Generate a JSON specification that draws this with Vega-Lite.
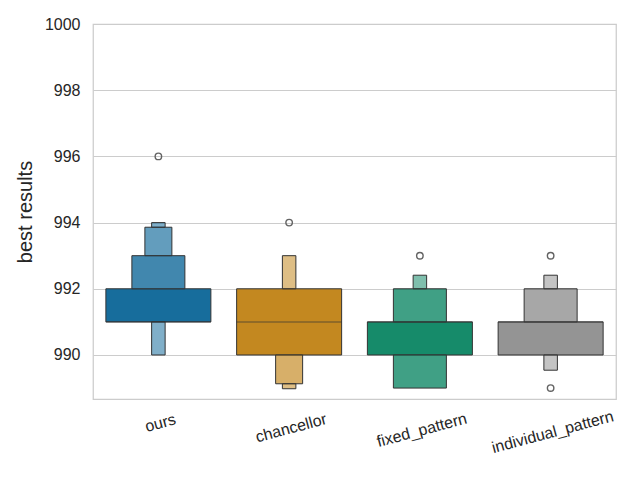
{
  "$schema": "https://vega.github.io/schema/vega-lite/v6.json",
  "width": 523,
  "height": 375,
  "autosize": {"type": "none"},
  "padding": {"left": 93, "top": 24, "right": 24, "bottom": 81},
  "background": "white",
  "config": {
    "view": {"stroke": "#cccccc", "strokeWidth": 1.25},
    "font": "Liberation Sans"
  },
  "datasets": {
    "boxes": [
      {"method": "ours", "level": 1, "lo": 991, "hi": 992},
      {"method": "ours", "level": 2, "lo": 992, "hi": 993},
      {"method": "ours", "level": 3, "lo": 993, "hi": 993.86},
      {"method": "ours", "level": 4, "lo": 993.86, "hi": 994},
      {"method": "ours", "level": 4, "lo": 990, "hi": 991},
      {"method": "chancellor", "level": 1, "lo": 990, "hi": 992},
      {"method": "chancellor", "level": 3, "lo": 989.13, "hi": 990},
      {"method": "chancellor", "level": 4, "lo": 988.98, "hi": 989.13},
      {"method": "chancellor", "level": 4, "lo": 992, "hi": 993},
      {"method": "fixed_pattern", "level": 1, "lo": 990, "hi": 991},
      {"method": "fixed_pattern", "level": 2, "lo": 991, "hi": 992},
      {"method": "fixed_pattern", "level": 2, "lo": 989, "hi": 990},
      {"method": "fixed_pattern", "level": 4, "lo": 992, "hi": 992.41},
      {"method": "individual_pattern", "level": 1, "lo": 990, "hi": 991},
      {"method": "individual_pattern", "level": 2, "lo": 991, "hi": 992},
      {"method": "individual_pattern", "level": 4, "lo": 992, "hi": 992.41},
      {"method": "individual_pattern", "level": 4, "lo": 989.54, "hi": 990}
    ],
    "medians": [
      {"method": "ours", "median": 991},
      {"method": "chancellor", "median": 991},
      {"method": "fixed_pattern", "median": 991},
      {"method": "individual_pattern", "median": 991}
    ],
    "outliers": [
      {"method": "ours", "value": 996},
      {"method": "chancellor", "value": 994},
      {"method": "fixed_pattern", "value": 993},
      {"method": "individual_pattern", "value": 993},
      {"method": "individual_pattern", "value": 989}
    ]
  },
  "encoding": {
    "x": {
      "field": "method",
      "type": "nominal",
      "sort": ["ours", "chancellor", "fixed_pattern", "individual_pattern"],
      "scale": {"domain": ["ours", "chancellor", "fixed_pattern", "individual_pattern"], "paddingInner": 0, "paddingOuter": 0},
      "axis": {
        "title": null,
        "labelAngle": -15,
        "labelAlign": "center",
        "labelBaseline": "top",
        "labelFontSize": 16,
        "labelColor": "#262626",
        "labelPadding": {
          "condition": [
            {"test": "datum.value === 'ours'", "value": 16},
            {"test": "datum.value === 'chancellor'", "value": 21},
            {"test": "datum.value === 'fixed_pattern'", "value": 23}
          ],
          "value": 25
        },
        "ticks": false,
        "domain": false,
        "grid": false
      }
    }
  },
  "layer": [
    {
      "data": {"name": "boxes"},
      "mark": {"type": "bar", "stroke": "#333333", "strokeWidth": 1},
      "encoding": {
        "y": {
          "field": "lo",
          "type": "quantitative",
          "title": "best results",
          "scale": {"domain": [988.67, 1000], "nice": false, "zero": false},
          "axis": {
            "values": [990, 992, 994, 996, 998, 1000],
            "format": "d",
            "grid": true,
            "gridColor": "#cccccc",
            "gridWidth": 1,
            "domain": false,
            "ticks": false,
            "labelFontSize": 16,
            "labelColor": "#262626",
            "labelPadding": 13,
            "titleFontSize": 20,
            "titleFontWeight": "normal",
            "titleColor": "#262626",
            "titlePadding": 9
          }
        },
        "y2": {"field": "hi"},
        "size": {
          "field": "level",
          "type": "ordinal",
          "scale": {"type": "ordinal", "domain": [1, 2, 3, 4], "range": [105, 53, 27, 13.5]},
          "legend": null
        },
        "color": {
          "field": "method",
          "type": "nominal",
          "scale": {
            "domain": ["ours", "chancellor", "fixed_pattern", "individual_pattern"],
            "range": ["#176d9c", "#c38820", "#168b6a", "#949494"]
          },
          "legend": null
        },
        "fillOpacity": {
          "field": "level",
          "type": "ordinal",
          "scale": {"type": "ordinal", "domain": [1, 2, 3, 4], "range": [1, 0.82, 0.67, 0.55]},
          "legend": null
        }
      }
    },
    {
      "data": {"name": "medians"},
      "mark": {"type": "tick", "color": "#333333", "thickness": 1, "size": 105},
      "encoding": {
        "y": {"field": "median", "type": "quantitative", "title": "best results"}
      }
    },
    {
      "data": {"name": "outliers"},
      "mark": {"type": "point", "shape": "circle", "filled": false, "stroke": "#636363", "strokeWidth": 1.4, "size": 42, "opacity": 1},
      "encoding": {
        "y": {"field": "value", "type": "quantitative", "title": "best results"}
      }
    }
  ]
}
